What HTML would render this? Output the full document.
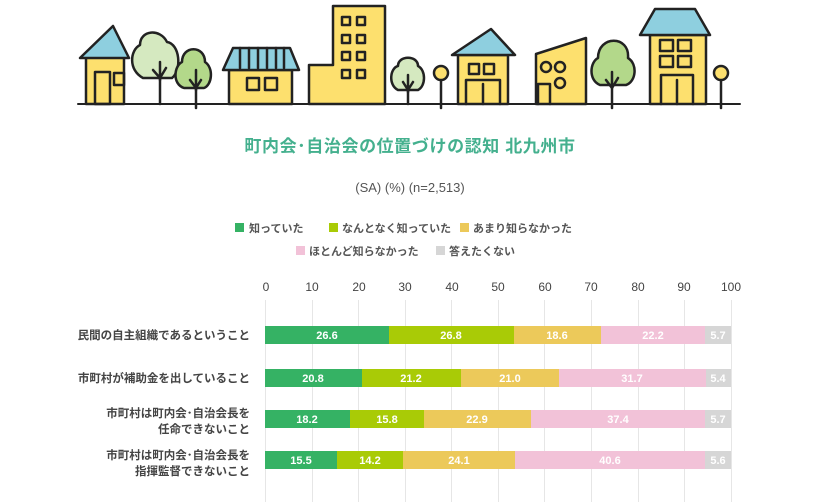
<!DOCTYPE html>
<html><head><meta charset="utf-8"><style>
body{margin:0;background:#fff;width:820px;height:502px;overflow:hidden}
svg{display:block;font-family:"Liberation Sans","Noto Sans CJK JP",sans-serif}
</style></head><body>
<svg width="820" height="502" viewBox="0 0 820 502" xmlns="http://www.w3.org/2000/svg">
<g stroke="#222" stroke-width="2.5" stroke-linejoin="round" stroke-linecap="round">
<rect x="86" y="57" width="38" height="47" fill="#fde06e"/>
<polygon points="80,58 113,26 129,58" fill="#8ecfdf"/>
<rect x="95" y="72" width="15" height="32" fill="none"/>
<rect x="114" y="73" width="10" height="12" fill="none"/>
<path d="M160,104 V60" /><path d="M143,78 C128,70 130,50 140,45 C140,30 160,28 167,42 C180,44 182,70 172,78 Z" fill="#d5e9c0"/>
<path d="M160,80 V62 M153,70 L160,78 L166,68" fill="none"/>
<path d="M196,108 V60"/><path d="M184,88 C172,84 174,66 182,62 C182,45 205,45 205,62 C214,68 212,85 204,88 Z" fill="#b3d88a"/>
<path d="M196,90 V70 M190,80 L196,88 L201,80" fill="none"/>
<rect x="229" y="70" width="63" height="34" fill="#fde06e"/>
<polygon points="223,70 233,48 290,48 299,70" fill="#8ecfdf"/>
<path d="M240,48 V68 M249,48 V68 M258,48 V68 M267,48 V68 M276,48 V68 M284,48 V68" fill="none"/>
<rect x="247" y="78" width="12" height="12" fill="none"/><rect x="265" y="78" width="12" height="12" fill="none"/>
<path d="M309,104 V65 H333 V6 H385 V104 Z" fill="#fde06e"/>
<g fill="none"><rect x="342" y="17" width="8" height="8"/><rect x="357" y="17" width="8" height="8"/><rect x="342" y="35" width="8" height="8"/><rect x="357" y="35" width="8" height="8"/><rect x="342" y="52" width="8" height="8"/><rect x="357" y="52" width="8" height="8"/><rect x="342" y="70" width="8" height="8"/><rect x="357" y="70" width="8" height="8"/></g>
<path d="M408,104 V62"/><path d="M398,90 C388,85 390,68 398,66 C398,55 418,55 418,66 C426,70 426,86 418,90 Z" fill="#d5e9c0"/>
<path d="M408,92 V75 M403,82 L408,90 L413,82" fill="none"/>
<path d="M441,108 V80"/><circle cx="441" cy="73" r="7" fill="#fde06e"/>
<rect x="458" y="55" width="50" height="49" fill="#fde06e"/>
<polygon points="452,55 491,29 515,55" fill="#8ecfdf"/>
<g fill="none"><rect x="469" y="64" width="10" height="10"/><rect x="484" y="64" width="10" height="10"/><path d="M466,104 V80 H500 V104 M483,84 V104"/></g>
<path d="M536,104 V54 L586,38 V104 Z" fill="#fde06e"/>
<g fill="none"><circle cx="546" cy="67" r="5"/><circle cx="560" cy="67" r="5"/><circle cx="560" cy="83" r="5"/><path d="M538,104 V84 H550 V104"/></g>
<path d="M612,108 V60"/><path d="M600,85 C588,80 590,62 598,58 C598,35 630,35 628,58 C638,64 636,82 626,85 Z" fill="#b3d88a"/>
<path d="M612,88 V72 M606,80 L612,88 L618,78" fill="none"/>
<rect x="650" y="35" width="56" height="69" fill="#fde06e"/>
<polygon points="640,35 655,9 695,9 710,35" fill="#8ecfdf"/>
<g fill="none"><rect x="660" y="40" width="13" height="11"/><rect x="678" y="40" width="13" height="11"/><rect x="660" y="56" width="13" height="11"/><rect x="678" y="56" width="13" height="11"/><path d="M661,104 V75 H693 V104 M677,80 V104"/></g>
<path d="M721,108 V80"/><circle cx="721" cy="73" r="7" fill="#fde06e"/>
<path d="M78,104 H740" fill="none" stroke-width="2"/>
</g>
<text x="410" y="152" text-anchor="middle" font-size="17" letter-spacing="0.6" font-weight="bold" fill="#44b08e">町内会･自治会の位置づけの認知 北九州市</text>
<text x="410" y="192" text-anchor="middle" font-size="13" fill="#555">(SA) (%) (n=2,513)</text>
<g font-size="11" font-weight="bold" fill="#555">
<rect x="235" y="223" width="9" height="9" fill="#35b264"/><text x="249" y="232">知っていた</text>
<rect x="329" y="223" width="9" height="9" fill="#a9cb06"/><text x="342" y="232">なんとなく知っていた</text>
<rect x="460" y="223" width="9" height="9" fill="#ecc95a"/><text x="473" y="232">あまり知らなかった</text>
<rect x="296" y="246" width="9" height="9" fill="#f2c2d8"/><text x="309" y="255">ほとんど知らなかった</text>
<rect x="436" y="246" width="9" height="9" fill="#d6d6d6"/><text x="449" y="255">答えたくない</text>
</g>
<g stroke="#e6e6e6" stroke-width="1">
<path d="M265.5,300V502M312.5,300V502M358.5,300V502M405.5,300V502M451.5,300V502M498.5,300V502M544.5,300V502M591.5,300V502M638.5,300V502M684.5,300V502M731.5,300V502"/>
</g>
<g font-size="12" fill="#444" text-anchor="middle">
<text x="266" y="291">0</text><text x="312" y="291">10</text><text x="359" y="291">20</text><text x="405" y="291">30</text><text x="452" y="291">40</text><text x="498" y="291">50</text><text x="545" y="291">60</text><text x="591" y="291">70</text><text x="638" y="291">80</text><text x="684" y="291">90</text><text x="731" y="291">100</text>
</g>
<g font-size="11.5" font-weight="bold" fill="#444" text-anchor="end">
<text x="250" y="339">民間の自主組織であるということ</text>
<text x="250" y="382">市町村が補助金を出していること</text>
<text x="250" y="417">市町村は町内会･自治会長を</text><text x="250" y="433">任命できないこと</text>
<text x="250" y="459">市町村は町内会･自治会長を</text><text x="250" y="475">指揮監督できないこと</text>
</g>
<g>
<rect x="265" y="326" width="124" height="18" fill="#35b264"/><rect x="389" y="326" width="125" height="18" fill="#a9cb06"/><rect x="514" y="326" width="87" height="18" fill="#ecc95a"/><rect x="601" y="326" width="104" height="18" fill="#f2c2d8"/><rect x="705" y="326" width="26" height="18" fill="#d6d6d6"/>
<rect x="265" y="369" width="97" height="18" fill="#35b264"/><rect x="362" y="369" width="99" height="18" fill="#a9cb06"/><rect x="461" y="369" width="98" height="18" fill="#ecc95a"/><rect x="559" y="369" width="147" height="18" fill="#f2c2d8"/><rect x="706" y="369" width="25" height="18" fill="#d6d6d6"/>
<rect x="265" y="410" width="85" height="18" fill="#35b264"/><rect x="350" y="410" width="74" height="18" fill="#a9cb06"/><rect x="424" y="410" width="107" height="18" fill="#ecc95a"/><rect x="531" y="410" width="174" height="18" fill="#f2c2d8"/><rect x="705" y="410" width="26" height="18" fill="#d6d6d6"/>
<rect x="265" y="451" width="72" height="18" fill="#35b264"/><rect x="337" y="451" width="66" height="18" fill="#a9cb06"/><rect x="403" y="451" width="112" height="18" fill="#ecc95a"/><rect x="515" y="451" width="190" height="18" fill="#f2c2d8"/><rect x="705" y="451" width="26" height="18" fill="#d6d6d6"/>
</g>
<g font-size="11" font-weight="bold" fill="#fff" text-anchor="middle">
<text x="327" y="339">26.6</text><text x="451" y="339">26.8</text><text x="557" y="339">18.6</text><text x="653" y="339">22.2</text><text x="718" y="339">5.7</text>
<text x="313" y="382">20.8</text><text x="411" y="382">21.2</text><text x="510" y="382">21.0</text><text x="632" y="382">31.7</text><text x="718" y="382">5.4</text>
<text x="307" y="423">18.2</text><text x="387" y="423">15.8</text><text x="477" y="423">22.9</text><text x="618" y="423">37.4</text><text x="718" y="423">5.7</text>
<text x="301" y="464">15.5</text><text x="370" y="464">14.2</text><text x="459" y="464">24.1</text><text x="610" y="464">40.6</text><text x="718" y="464">5.6</text>
</g>
</svg>
</body></html>
